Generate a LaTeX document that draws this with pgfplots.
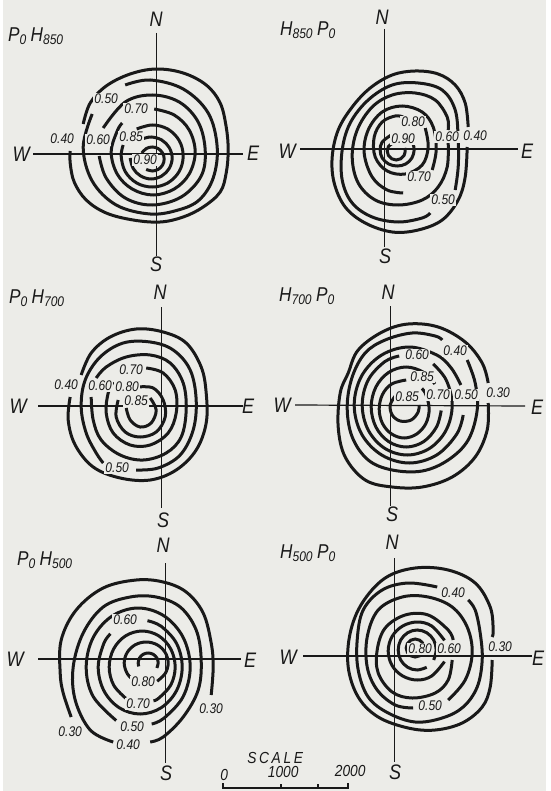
\documentclass[border=0pt]{standalone}
\usepackage{fontspec}
\usepackage{pgfplots}
\pgfplotsset{compat=1.18}
\newfontfamily\hand{Liberation Sans}[FakeStretch=0.86]
\definecolor{paper}{RGB}{236,236,232}
\definecolor{ink}{RGB}{25,25,25}
\tikzset{
  ring/.style={ink, line width=1.5pt, smooth, tension=0.6},
  cross/.style={ink, line width=0.6pt},
  lab/.style={font=\hand\itshape\fontsize{7}{8}\selectfont, fill=paper, inner sep=0.5pt, text=ink},
  dir/.style={font=\hand\itshape\fontsize{10.5}{12}\selectfont, text=ink},
  ttl/.style={font=\hand\itshape\fontsize{10}{12}\selectfont, text=ink},
  sc/.style={font=\hand\itshape\fontsize{8}{9}\selectfont, text=ink, inner sep=0.5pt},
}
\begin{document}
\begin{tikzpicture}
\begin{axis}[
  x=0.5pt, y=0.5pt, y dir=reverse,
  xmin=0, xmax=543, ymin=0, ymax=791,
  hide axis, clip=false,
]
% paper
\addplot[draw=none, fill=paper] coordinates {(0,0) (543,0) (543,791) (0,791)} -- cycle;

% ---------- panel 1: P0 H850
\addplot[cross] coordinates {(153,33) (153,256)};
\addplot[cross] coordinates {(30,154) (240,154)};
\addplot[ring] coordinates {(80,124) (87,103) (103,86) (127,74) (153,69) (180,73) (203,85) (217,103) (223,127) (225,150) (223,173) (217,192) (200,207) (180,217) (157,222) (130,220) (103,213) (83,200) (71,182) (67,163) (67,151)};
\addplot[ring] coordinates {(122,85) (147,80) (180,89) (205,113) (214,147) (210,178) (196,200) (175,210) (147,214) (113,205) (89,181) (80,147) (89,114)};
\addplot[ring] coordinates {(100,128) (122,102) (149,95) (176,102) (195,122) (202,150) (198,176) (178,197) (149,205) (122,198) (103,178) (96,156)};
\addplot[ring] coordinates {(151,109) (171,115) (186,130) (192,152) (186,174) (171,189) (150,195) (129,189) (114,174) (108,152) (114,131) (119,123)};
\addplot[ring] coordinates {(133.5,129) (149,125) (164.5,129) (176,140.5) (180,156) (176,171.5) (164.5,183) (149,187) (133.5,183) (122,171.5) (118,156) (120,145)};
\addplot[ring] coordinates {(139,139) (148,137) (158.5,140) (166,147.5) (169,158) (166,168.5) (158.5,176) (148,179) (137.5,176) (130,168.5) (127,158)};
\addplot[ring] coordinates {(138.6,153) (143,148.6) (149,147) (155,148.6) (159.4,153) (161,159) (159.4,165) (155,169.4) (149,171) (143,169.4)};
\node[lab] at (59,139) {0.40};
\node[lab] at (103,99) {0.50};
\node[lab] at (95,140) {0.60};
\node[lab] at (133,109) {0.70};
\node[lab] at (128,137) {0.85};
\node[lab] at (142,160) {0.90};
\node[dir] at (153,19) {N};
\node[dir] at (18,154) {W};
\node[dir] at (250,153) {E};
\node[dir] at (153,264) {S};
\node[ttl] at (33,36) {P\textsubscript{0}\,H\textsubscript{850}};

% ---------- panel 2: H850 P0
\addplot[cross] coordinates {(381,29) (381,247)};
\addplot[cross] coordinates {(297,149) (515,149)};
\addplot[ring] coordinates {(465,127) (462,103) (452,85) (435,74) (412,71) (389,75) (367,88) (349,107) (335,130) (329,157) (331,183) (342,207) (362,223) (389,232) (415,230) (439,220) (455,200) (462,177) (464,147)};
\addplot[ring] coordinates {(452,190) (455,167) (455,140) (452,110) (439,90) (415,83) (389,85) (365,100) (347,123) (339,150) (339,180) (349,203) (369,217) (395,222) (419,218) (427,213)};
\addplot[ring] coordinates {(445,143) (444,167) (435,187) (419,200) (395,205) (372,200) (355,183) (349,157) (354,130) (369,107) (389,95) (412,93) (432,100) (444,117) (445,130)};
\addplot[ring] coordinates {(429,170) (433,150) (430,127) (419,112) (399,106) (379,112) (365,130) (361,153) (369,177) (384,190) (400,193)};
\addplot[ring] coordinates {(422,128) (425,147) (419,165) (402,174) (384,171) (372,157) (371,137) (379,122) (392,116) (400,117)};
\addplot[ring] coordinates {(388,135) (379,142) (377,150) (379,158) (385.5,164) (394,166) (402.5,164) (408.7,158) (411,150) (410,144.5)};
\addplot[ring] coordinates {(391.4,142) (385.2,146.5) (384,151) (385.2,155.5) (388.5,158.8) (393,160) (397.5,158.8) (400.8,155.5) (402,151) (401.5,148)};
\node[lab] at (472,136) {0.40};
\node[lab] at (440,200) {0.50};
\node[lab] at (444,137) {0.60};
\node[lab] at (416,177) {0.70};
\node[lab] at (410,122) {0.80};
\node[lab] at (400,139) {0.90};
\node[dir] at (379,17) {N};
\node[dir] at (284,151) {W};
\node[dir] at (524,151) {E};
\node[dir] at (382,256) {S};
\node[ttl] at (305,30) {H\textsubscript{850}\,P\textsubscript{0}};

% ---------- panel 3: P0 H700
\addplot[cross] coordinates {(158,307) (158,508)};
\addplot[cross] coordinates {(35,406) (240,406)};
\addplot[ring] coordinates {(78,375) (88,353) (107,337) (133,329) (160,332) (183,343) (198,367) (203,393) (203,423) (193,450) (173,470) (147,480) (117,478) (90,467) (72,445) (65,420) (67,397)};
\addplot[ring] coordinates {(133,470) (155,468) (177,455) (190,430) (193,400) (187,370) (170,350) (147,342) (120,343) (97,357) (82,380) (78,407) (83,433) (93,453) (100,463)};
\addplot[ring] coordinates {(88,397) (90,420) (98,440) (117,455) (140,460) (163,453) (178,437) (183,410) (180,383) (167,363) (147,355) (123,357) (103,367) (93,378)};
\addplot[ring] coordinates {(143,368) (160,373) (172,390) (173,413) (165,433) (147,445) (127,445) (110,433) (103,413) (105,393) (110,382)};
\addplot[ring] coordinates {(135,387) (150,388) (160,400) (162,417) (153,432) (137,437) (122,432) (113,417) (115,400)};
\addplot[ring] coordinates {(147,398) (153,410) (148,423) (137,427) (127,420) (123,408)};
\node[lab] at (63,385) {0.40};
\node[lab] at (114,468) {0.50};
\node[lab] at (97,386) {0.60};
\node[lab] at (128,370) {0.70};
\node[lab] at (124,387) {0.80};
\node[lab] at (133,401) {0.85};
\node[dir] at (157,292) {N};
\node[dir] at (15,406) {W};
\node[dir] at (245,406) {E};
\node[dir] at (160,520) {S};
\node[ttl] at (34,298) {P\textsubscript{0}\,H\textsubscript{700}};

% ---------- panel 4: H700 P0
\addplot[cross] coordinates {(387,306) (387,506)};
\addplot[cross] coordinates {(292,405) (522,406)};
\addplot[ring] coordinates {(485,403) (484,430) (472,457) (449,477) (419,487) (389,487) (362,480) (342,457) (335,427) (337,393) (345,373) (355,350) (379,332) (405,324) (435,327) (462,342) (479,363) (485,383)};
\addplot[ring] coordinates {(464,360) (472,383) (474,410) (465,440) (445,460) (419,471) (389,470) (365,460) (349,437) (344,407) (349,377) (362,353) (382,340) (409,333) (432,336) (439,340)};
\addplot[ring] coordinates {(457.7,385) (448,368) (433.5,355) (406,347) (378.5,355) (358.4,376) (351,405) (358.4,434) (378.5,455) (406,463) (433.5,455) (453.6,434) (460,415)};
\addplot[ring] coordinates {(396,356) (381.5,361.7) (365,380) (359,405) (365,430) (381.5,448.3) (404,455) (426.5,448.3) (443,430) (449,405) (443,380) (430,364)};
\addplot[ring] coordinates {(431.7,384) (420.5,372.4) (403,367) (385.5,372.4) (372.7,387) (368,407) (372.7,427) (385.5,441.6) (403,447) (420.5,441.6) (433.3,427) (438,410.5)};
\addplot[ring] coordinates {(403,380) (388.5,384) (379.3,394.5) (376,409) (379.3,423.5) (388.5,434) (401,438) (413.5,434) (422.7,423.5) (426,409) (422.7,394.5) (418.7,388.5)};
\addplot[ring] coordinates {(392,396) (387,405) (389,415) (397,421) (408,420) (415,412) (416,405)};
\node[lab] at (495,393) {0.30};
\node[lab] at (452,351) {0.40};
\node[lab] at (463,395) {0.50};
\node[lab] at (414,355) {0.60};
\node[lab] at (435,395) {0.70};
\node[lab] at (419,377) {0.85};
\node[lab] at (404,397) {0.85};
\node[dir] at (385,292) {N};
\node[dir] at (279,405) {W};
\node[dir] at (534,407) {E};
\node[dir] at (389,514) {S};
\node[ttl] at (304,296) {H\textsubscript{700}\,P\textsubscript{0}};

% ---------- panel 5: P0 H500
\addplot[cross] coordinates {(162,563) (162,763)};
\addplot[cross] coordinates {(35,659) (238,659)};
\addplot[ring] coordinates {(68,717) (60,693) (57,673) (58,640) (73,610) (100,588) (133,580) (160,582) (183,592) (200,613) (208,643) (210,667) (208,695)};
\addplot[ring] coordinates {(110,742) (87,730) (72,700) (70,667) (80,633) (100,607) (127,597) (153,597) (177,607) (193,630) (198,660) (195,690) (180,717) (160,737) (147,742)};
\addplot[ring] coordinates {(113,720.5) (90,696.5) (83,667) (90,637.5) (109,616) (135,608) (161,616) (180,637.5) (187,667) (180,696.5) (161,718) (148.5,724)};
\addplot[ring] coordinates {(144.3,620.7) (158,626.3) (173.4,643.5) (179,667) (173.4,690.5) (158,707.7) (137,714) (116,707.7) (100.6,690.5) (95,667) (100.6,643.5) (107.3,633.8)};
\addplot[ring] coordinates {(122.5,698.2) (110.4,685) (106,667) (110.4,649) (122.5,635.8) (139,631) (155.5,635.8) (167.6,649) (172,667) (167.6,685) (155.5,698.2) (150.3,700.8)};
\addplot[ring] coordinates {(130.4,680.2) (124,673.5) (121,663) (124,652.5) (132,644.8) (143,642) (154,644.8) (162,652.5) (165,663) (162,673.5) (154,681.2)};
\addplot[ring] coordinates {(135.6,666.4) (135,663) (136.3,658) (140,654.3) (145,653) (150,654.3) (153.7,658) (155,663) (153.7,668)};
\node[lab] at (67,732) {0.30};
\node[lab] at (208,709) {0.30};
\node[lab] at (125,745) {0.40};
\node[lab] at (129,727) {0.50};
\node[lab] at (122,620) {0.60};
\node[lab] at (135,704) {0.70};
\node[lab] at (140,682) {0.80};
\node[dir] at (160,545) {N};
\node[dir] at (12,659) {W};
\node[dir] at (247,660) {E};
\node[dir] at (163,773) {S};
\node[ttl] at (42,560) {P\textsubscript{0}\,H\textsubscript{500}};

% ---------- panel 6: H500 P0
\addplot[cross] coordinates {(391,558) (391,762)};
\addplot[cross] coordinates {(300,656) (529,656)};
\addplot[ring] coordinates {(489,660) (487,687) (479,707) (459,723) (432,730) (405,728) (375,717) (355,697) (345,667) (347,633) (359,603) (382,578) (412,568) (445,570) (472,583) (487,607) (490,630) (489,637)};
\addplot[ring] coordinates {(434,587) (405,583) (379,590) (360,610) (354,640) (355,670) (365,697) (385,713) (412,722) (439,718) (460,707) (474,687) (479,660) (477,633) (472,610) (465,600)};
\addplot[ring] coordinates {(445,700) (462,680) (469,653) (464,627) (449,607) (425,597) (399,597) (375,610) (364,637) (364,667) (374,690) (392,705) (410,708)};
\addplot[ring] coordinates {(449,660) (445,680) (432,693) (409,698) (389,692) (375,673) (374,650) (382,628) (402,615) (425,615) (445,630) (450,640)};
\addplot[ring] coordinates {(441.3,640.4) (428.5,626) (414,622) (399.5,626) (388.9,636.5) (385,651) (388.9,665.5) (399.5,676) (414,680) (428.5,676) (441.3,661.6)};
\addplot[ring] coordinates {(430.5,660) (433,650) (430.5,640) (423.5,632.7) (414,630) (404.5,632.7) (397.5,640) (395,650) (397.5,660) (404.5,667.3) (414,670) (423.5,667.3)};
\addplot[ring] coordinates {(419.8,643.5) (416.5,640.2) (412,639) (407.5,640.2) (404.2,643.5) (403,648) (404.2,652.5) (407.5,655.8) (412,657) (416.5,655.8) (419.8,652.5)};
\node[lab] at (497,647) {0.30};
\node[lab] at (450,593) {0.40};
\node[lab] at (427,706) {0.50};
\node[lab] at (446,649) {0.60};
\node[lab] at (417,649) {0.80};
\node[dir] at (389,542) {N};
\node[dir] at (285,657) {W};
\node[dir] at (535,658) {E};
\node[dir] at (392,772) {S};
\node[ttl] at (305,553) {H\textsubscript{500}\,P\textsubscript{0}};

% ---------- scale bar
\addplot[cross, line width=0.7pt] coordinates {(220,783) (220,788) (345,788) (345,783)};
\addplot[cross, line width=0.7pt] coordinates {(278,784) (278,788)};
\addplot[cross, line width=0.7pt] coordinates {(315,784) (315,788)};
\node[sc] at (272,758) {S\,C\,A\,L\,E};
\node[sc] at (221,775) {0};
\node[sc] at (280,772) {1000};
\node[sc] at (347,771) {2000};
\end{axis}
\end{tikzpicture}
\end{document}
